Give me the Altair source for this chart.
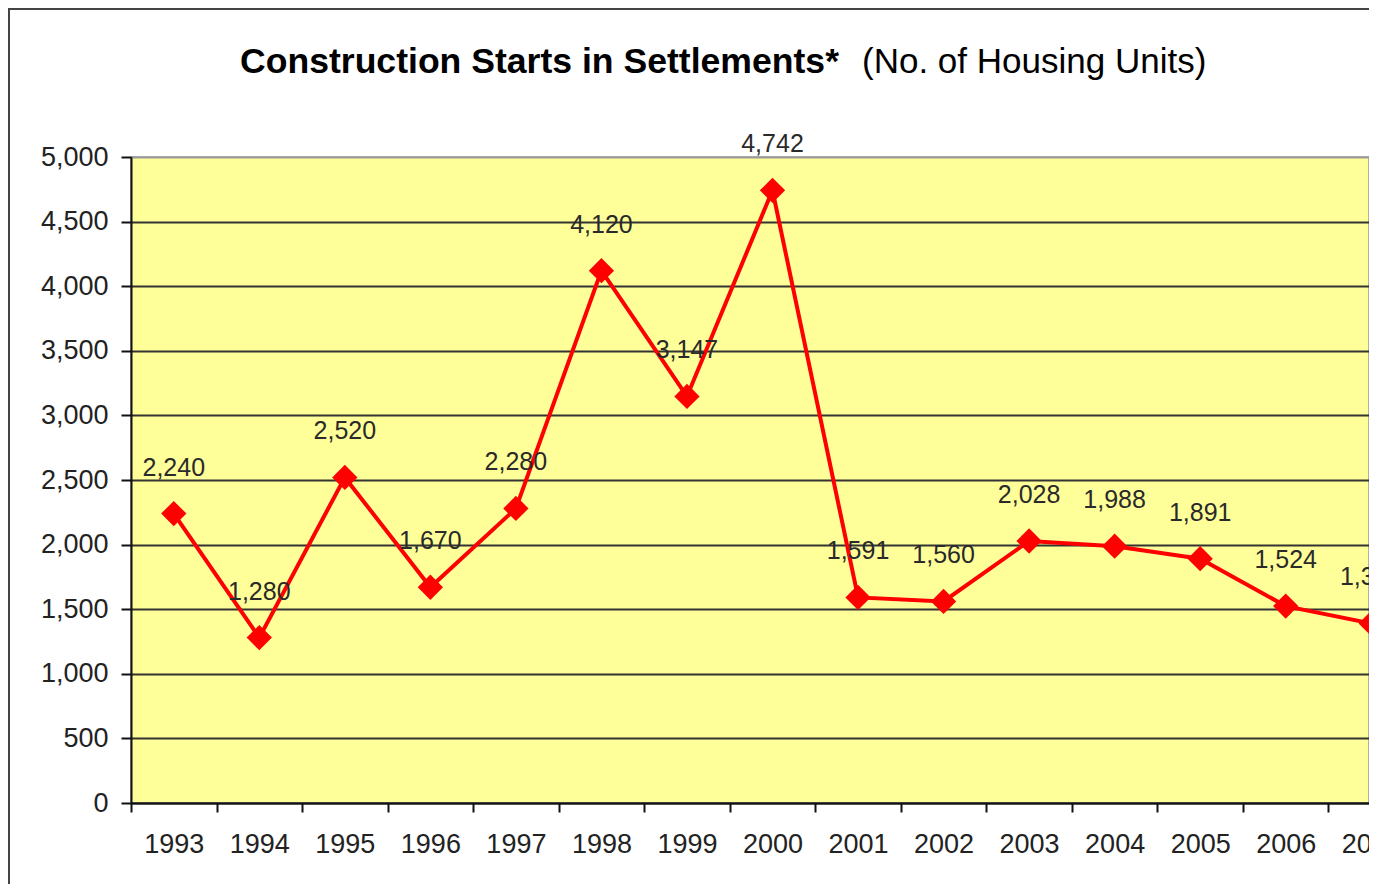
import altair as alt
import pandas as pd

years = ["1993", "1994", "1995", "1996", "1997", "1998", "1999", "2000",
         "2001", "2002", "2003", "2004", "2005", "2006", "2007"]
units = [2240, 1280, 2520, 1670, 2280, 4120, 3147, 4742,
         1591, 1560, 2028, 1988, 1891, 1524, 1390]
y_ticks = [0, 500, 1000, 1500, 2000, 2500, 3000, 3500, 4000, 4500, 5000]
title_bold = "Construction Starts in Settlements*"
title_rest = "(No. of Housing Units)"

df = pd.DataFrame({"year": years, "units": units})

FULL_W = 1283   # full extent of the 15 year bands
W = 1238        # visible part of the plot area (chart is cut at the right)
H = 646
PAD_L, PAD_T, PAD_B = 123, 149, 81
FONT = "Liberation Sans"

x_enc = alt.X(
    "year:O",
    sort=years,
    scale=alt.Scale(type="band", paddingInner=0, paddingOuter=0, range=[0, FULL_W]),
    axis=alt.Axis(
        title=None,
        labelAngle=0,
        tickBand="extent",
        labelFont=FONT,
        labelFontSize=27,
        labelColor="#222222",
        labelPadding=19,
        tickSize=9,
        tickWidth=2,
        tickColor="#111111",
        domainColor="#111111",
        domainWidth=2,
        grid=False,
    ),
)
y_enc = alt.Y(
    "units:Q",
    scale=alt.Scale(domain=[0, 5000], nice=False),
    axis=alt.Axis(
        title=None,
        values=y_ticks,
        format=",.0f",
        labelFont=FONT,
        labelFontSize=27,
        labelColor="#222222",
        labelPadding=13,
        tickSize=10,
        tickWidth=2,
        tickColor="#111111",
        domainColor="#111111",
        domainWidth=2,
        grid=True,
        gridColor={"condition": {"test": "datum.value == 5000", "value": "#9a9a9a"}, "value": "#333333"},
        gridWidth=2,
    ),
)

base = alt.Chart(df)

line = base.mark_line(color="#FF0000", strokeWidth=4).encode(x=x_enc, y=y_enc)
points = base.mark_point(shape="diamond", filled=True, color="#FF0000", size=640, opacity=1).encode(
    x=x_enc, y=y_enc
)
labels = base.mark_text(
    font=FONT, fontSize=25, color="#2a2a2a", baseline="middle", dy=-46
).encode(x=x_enc, y=y_enc, text=alt.Text("units:Q", format=",.0f"))

frame = alt.Chart(alt.Data(values=[{"a": 1}])).mark_rect(
    fill="white", fillOpacity=0, stroke="#444444", strokeWidth=2, clip=False
).encode(
    x=alt.value(-122),
    x2=alt.value(W + 200),
    y=alt.value(-148),
    y2=alt.value(H + 300),
)

t1 = alt.Chart(alt.Data(values=[{"t": title_bold}])).mark_text(
    font=FONT, fontSize=35.6, fontWeight="bold", color="#000000",
    align="left", baseline="alphabetic"
).encode(x=alt.value(109), y=alt.value(-84), text="t:N")

t2 = alt.Chart(alt.Data(values=[{"t": title_rest}])).mark_text(
    font=FONT, fontSize=35, color="#000000",
    align="left", baseline="alphabetic"
).encode(x=alt.value(731), y=alt.value(-84), text="t:N")

chart = alt.layer(frame, line, points, labels, t1, t2).properties(
    width=W,
    height=H,
    autosize=alt.AutoSizeParams(type="none"),
    padding={"left": PAD_L, "top": PAD_T, "right": 0, "bottom": PAD_B},
    background="white",
).configure_view(
    fill="#FFFF99", stroke="#9a9a9a", strokeWidth=1.5
)

chart.save("out.html", embed_options={"renderer": "svg", "actions": False})
